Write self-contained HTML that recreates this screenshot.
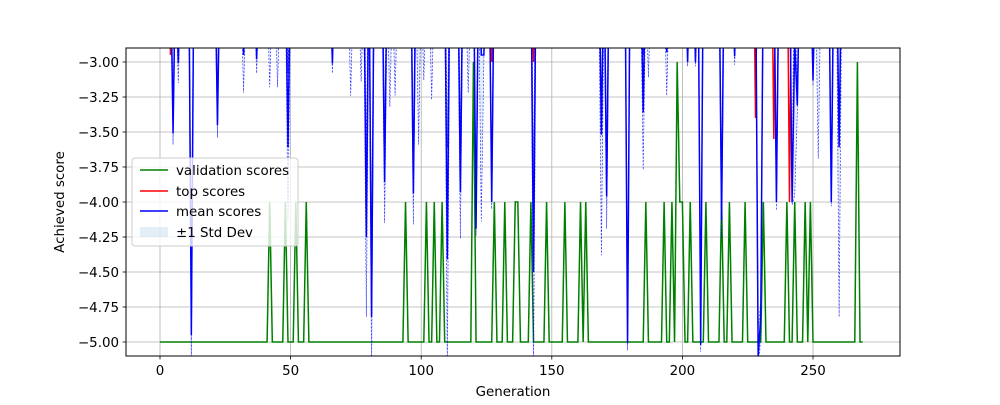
<!DOCTYPE html>
<html><head><meta charset="utf-8"><style>
body{margin:0;background:#fff}
svg text{font-family:"DejaVu Sans","Liberation Sans",sans-serif;font-size:13.4px;fill:#000}
</style></head><body>
<svg id="chart" width="1000" height="400" xmlns="http://www.w3.org/2000/svg">
<defs><clipPath id="clip"><rect x="126" y="48" width="774" height="308"/></clipPath></defs>
<g id="grid"></g>
<g id="plot" clip-path="url(#clip)"></g>
<rect x="126" y="48" width="774" height="308" fill="none" stroke="#000" stroke-width="1"/>
<g id="axes"></g>
<text x="513" y="396" text-anchor="middle">Generation</text>
<text transform="translate(64,202) rotate(-90)" text-anchor="middle">Achieved score</text>
<g>
<rect x="132" y="158" width="166" height="88" rx="3" fill="#fff" fill-opacity="0.8" stroke="#ccc"/>
<line x1="140" y1="170" x2="168" y2="170" stroke="green" stroke-width="1.5"/>
<text x="176" y="175">validation scores</text>
<line x1="140" y1="191" x2="168" y2="191" stroke="red" stroke-width="1.5"/>
<text x="176" y="196">top scores</text>
<line x1="140" y1="211" x2="168" y2="211" stroke="blue" stroke-width="1.5"/>
<text x="176" y="216">mean scores</text>
<rect x="140" y="227" width="28" height="10" fill="rgba(31,119,180,0.12)"/>
<text x="176" y="237">±1 Std Dev</text>
</g>
</svg>
<script>
const N = 270;
const xTicks = [0,50,100,150,200,250];
const yTicks = [-5.0,-4.75,-4.5,-4.25,-4.0,-3.75,-3.5,-3.25,-3.0];
const valGens = [42,48,52,56,94,102,105,108,120,128,132,136,137,142,148,155,161,163,186,193,196,198,199,200,203,209,215,218,224,231,240,243,247,249,267];
const valVals = [-4,-4,-4,-4,-4,-4,-4,-4,-3,-4,-4,-4,-4,-4,-4,-4,-4,-4,-4,-4,-4,-3,-4,-4,-4,-4,-4,-4,-4,-4,-4,-4,-4,-4,-3];
const meanGens = [5,7,12,22,32,37,42,45,49,66,73,77,79,81,86,88,90,97,99,101,104,110,115,118,121,123,124,127,143,169,171,179,185,187,194,202,205,207,215,220,229,230,236,242,243,244,250,252,257,260];
const meanVals = [-3.51,-3.01,-4.95,-3.45,-2.95,-2.98,-2.85,-2.85,-3.61,-3.01,-2.85,-2.85,-4.25,-4.82,-3.86,-2.85,-2.85,-3.94,-2.85,-2.85,-2.85,-4.41,-3.93,-2.85,-4.19,-2.95,-2.95,-4.0,-4.5,-3.52,-3.96,-5.01,-3.36,-2.85,-2.93,-3.0,-3.0,-5.02,-4.13,-2.96,-5.1,-4.82,-4.0,-4.0,-2.85,-3.31,-3.13,-2.85,-4.0,-3.61];
const meanStd = [0.08,0.14,0.25,0.09,0.27,0.1,0.33,0.33,0.53,0.07,0.39,0.29,0.57,0.4,0.29,0.47,0.39,0.22,0.74,0.28,0.42,0.8,0.33,0.37,0.05,1.19,0.02,0.05,0.7,0.86,0.23,0.05,0.41,0.26,0.31,0.03,0.03,0.05,0.13,0.06,0.2,0.1,0.06,0.02,1.1,0.05,0.04,0.84,0.03,1.21];
const topGens = [4,127,143,228,235,241];
const topVals = [-2.95,-3.0,-3.0,-3.4,-3.55,-4.0];
const defaultMean = -2.2, defaultStd = 0.3, defaultTop = -1.8, defaultVal = -5;

const X = g => 160 + g * 2.612;
const Y = v => 62 + (-3 - v) * 140;
const NS = 'http://www.w3.org/2000/svg';
function mk(tag, parent, attrs){const e=document.createElementNS(NS,tag);for(const k in attrs)e.setAttribute(k,attrs[k]);parent.appendChild(e);return e;}
function series(gens, vals, def){const a=new Array(N).fill(def);gens.forEach((g,i)=>a[g]=vals[i]);return a;}

const gridG=document.getElementById('grid'), axesG=document.getElementById('axes'), plotG=document.getElementById('plot');
xTicks.forEach(t=>{
  const gl=mk('line',gridG,{x1:X(t),x2:X(t),y1:48,y2:356,stroke:'#b0b0b0','stroke-width':0.8});
  
  
  const tk=mk('line',axesG,{x1:X(t),x2:X(t),y1:356,y2:359.5,stroke:'#000','stroke-width':0.8});
  
  
  const tx=mk('text',axesG,{x:X(t),y:375,'text-anchor':'middle'});tx.textContent=t;
  
  
});
yTicks.forEach(t=>{
  const gl=mk('line',gridG,{x1:126,x2:900,y1:Y(t),y2:Y(t),stroke:'#b0b0b0','stroke-width':0.8});
  
  
  const tk=mk('line',axesG,{x1:122.5,x2:126,y1:Y(t),y2:Y(t),stroke:'#000','stroke-width':0.8});
  
  
  const tx=mk('text',axesG,{x:119,y:Y(t)+5,'text-anchor':'end'});tx.textContent='\u2212'+Math.abs(t).toFixed(2);
  
  
});

const valS=series(valGens,valVals,defaultVal);
const meanS=series(meanGens,meanVals,defaultMean);
const stdS=series(meanGens,meanStd,defaultStd);
const topScores=series(topGens,topVals,defaultTop);
const pts=a=>a.map((v,i)=>X(i).toFixed(2)+','+Y(v).toFixed(2)).join(' ');

let band=[];for(let i=0;i<N;i++)band.push(X(i).toFixed(2)+','+Y(meanS[i]+stdS[i]).toFixed(2));
for(let i=N-1;i>=0;i--)band.push(X(i).toFixed(2)+','+Y(meanS[i]-stdS[i]).toFixed(2));
const bp=mk('polygon',plotG,{points:band.join(' '),fill:'rgba(31,119,180,0.12)',stroke:'none'});



const vl=mk('polyline',plotG,{points:pts(valS),fill:'none',stroke:'green','stroke-width':1.5});


const tl=mk('polyline',plotG,{points:pts(topScores),fill:'none',stroke:'red','stroke-width':1.5});


const ml=mk('polyline',plotG,{points:pts(meanS),fill:'none',stroke:'blue','stroke-width':1.5});


const up=mk('polyline',plotG,{points:pts(meanS.map((m,i)=>m+stdS[i])),fill:'none',stroke:'blue','stroke-width':0.7,'stroke-dasharray':'2,1.5','stroke-opacity':0.8});


const lo=mk('polyline',plotG,{points:pts(meanS.map((m,i)=>m-stdS[i])),fill:'none',stroke:'blue','stroke-width':0.7,'stroke-dasharray':'2,1.5','stroke-opacity':0.8});


</script>
</body></html>
